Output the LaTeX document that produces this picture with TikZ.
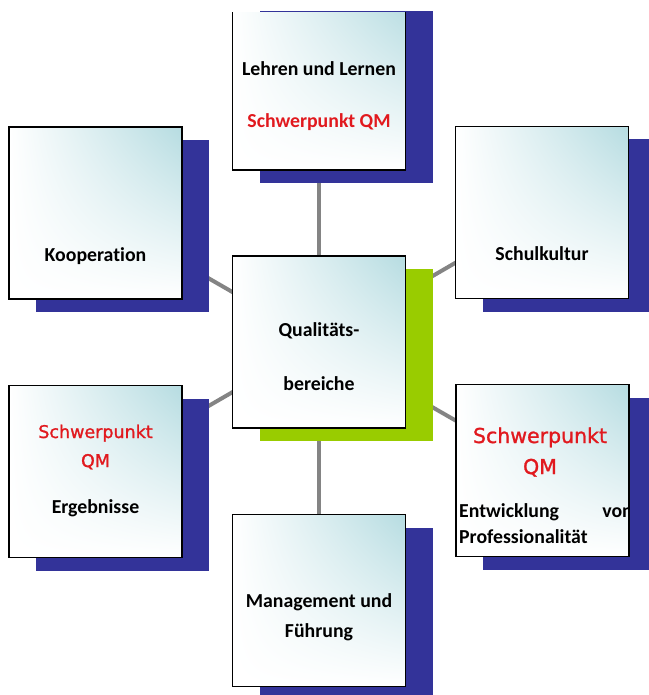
\documentclass[tikz,border=0pt]{standalone}
\usepackage{fontspec}
\setmainfont[Ligatures=NoCommon]{Carlito}
\newfontfamily\comicfont[FakeBold=1.2]{DejaVu Sans}
\usetikzlibrary{calc,shadings}
\pgfdeclarelayer{bg}
\pgfdeclarelayer{mid}
\pgfsetlayers{bg,mid,main}
\definecolor{shadowblue}{RGB}{51,51,153}
\definecolor{shadowgreen}{RGB}{153,204,0}
\definecolor{tealtint}{RGB}{182,220,225}
\definecolor{qmred}{RGB}{225,25,30}
\definecolor{linkgrey}{RGB}{132,132,132}
\tikzset{
  qbox/.style={draw=black, line width=1.3pt, minimum width=173pt, minimum height=172pt,
    inner sep=0pt, upper left=white, upper right=tealtint, lower left=white, lower right=white},
  qshadow/.style={fill=shadowblue, minimum width=173pt, minimum height=172pt, inner sep=0pt},
  gshadow/.style={qshadow, fill=shadowgreen},
  link/.style={draw=linkgrey, line width=4pt},
  lbl/.style={font=\bfseries\fontsize{19.8}{22}\selectfont, anchor=base, inner sep=0pt},
  redlbl/.style={lbl, text=qmred},
  comic/.style={font=\comicfont\fontsize{17.5}{20}\selectfont, text=qmred, anchor=base, inner sep=0pt},
  comicbig/.style={font=\comicfont\fontsize{20.5}{24}\selectfont, text=qmred, anchor=base, inner sep=0pt},
}
\begin{document}
\begin{tikzpicture}[x=1pt, y=-1pt]
\useasboundingbox (0,0) rectangle (648,695);
\clip (0,13) rectangle (648,695);
% boxes
\node[qbox] (btop) at (319,84) {};
\node[qbox] (bkoop) at (95.5,213) {};
\node[qbox] (bschul) at (542,212.5) {};
\node[qbox] (bcen) at (319,342) {};
\node[qbox] (berg) at (95.5,471.5) {};
\node[qbox] (bent) at (542.5,470.5) {};
\node[qbox] (bman) at (319,600.5) {};
% shadows
\begin{pgfonlayer}{mid}
\node[qshadow] (stop) at ($(btop)+(27,13)$) {};
\node[qshadow] (skoop) at ($(bkoop)+(27,13)$) {};
\node[qshadow] (sschul) at ($(bschul)+(27,13)$) {};
\node[gshadow] (scen) at ($(bcen)+(27,13)$) {};
\node[qshadow] (serg) at ($(berg)+(27,13)$) {};
\node[qshadow] (sent) at ($(bent)+(27,13)$) {};
\node[qshadow] (sman) at ($(bman)+(27,13)$) {};
\end{pgfonlayer}
% connectors
\begin{pgfonlayer}{bg}
\draw[link] (bcen.center) -- (btop.center);
\draw[link] (bcen.center) -- (bman.center);
\draw[link] (bcen.center) -- (bkoop.center);
\draw[link] (bcen.center) -- (bschul.center);
\draw[link] (bcen.center) -- (berg.center);
\draw[link] (bcen.center) -- (bent.center);
\end{pgfonlayer}
% texts
\node[lbl] (t1) at (319,76) {Lehren und Lernen};
\node[redlbl] (t2) at (319,128) {Schwerpunkt QM};
\node[lbl] (t3) at (95.5,261) {Kooperation};
\node[lbl] (t4) at (542,260) {Schulkultur};
\node[lbl] (t5) at (319,336) {Qualitäts-};
\node[lbl] (t6) at (319,390) {bereiche};
\node[comic] (t7) at (95.5,438) {Schwerpunkt};
\node[comic] (t8) at (95.5,467) {QM};
\node[lbl] (t9) at (95.5,513) {Ergebnisse};
\node[comicbig] (t10) at (540,443) {Schwerpunkt};
\node[comicbig] (t11) at (540,474) {QM};
\node[lbl, anchor=base west] (t12) at (459,517) {Entwicklung};
\node[lbl, anchor=base west] (t14) at (459,543) {Professionalität};
\begin{scope}
\clip (bent.south west) rectangle (bent.north east);
\node[lbl, anchor=base east] (t13) at (633,517) {von};
\end{scope}
\node[lbl] (t15) at (319,607) {Management und};
\node[lbl] (t16) at (319,637) {Führung};
\end{tikzpicture}
\end{document}
